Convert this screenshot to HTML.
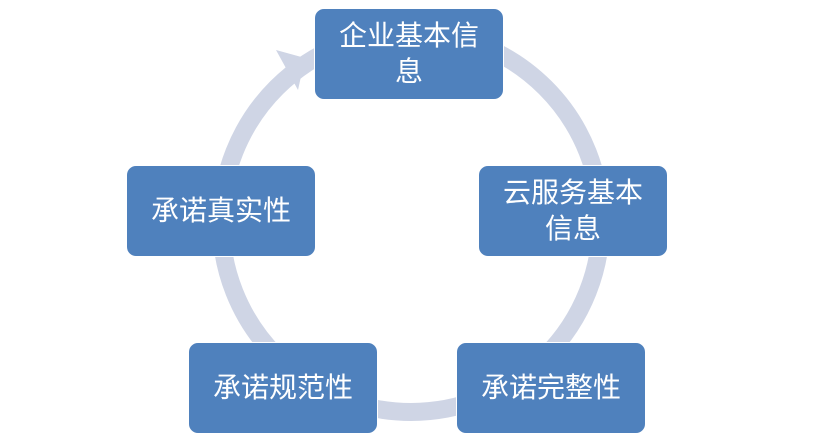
<!DOCTYPE html>
<html><head><meta charset="utf-8"><style>
html,body{margin:0;padding:0;background:#fff;width:823px;height:440px;overflow:hidden}
.b{position:absolute;width:190px;height:92px;background:#4f81bd;border:1px solid #fff;border-radius:10px;color:#fff;font-family:"Liberation Sans","Noto Sans CJK SC",sans-serif;font-size:28px;line-height:36px;display:flex;align-items:center;justify-content:center;text-align:center;box-sizing:border-box;padding:0 6px}
</style></head><body>
<svg width="823" height="440" style="position:absolute;left:0;top:0">
<circle cx="411" cy="222" r="190" fill="none" stroke="#cfd5e5" stroke-width="18"/>
<polygon points="305,58 298,90 276,50" fill="#cfd5e5"/>
</svg>
<div class="b" style="left:314px;top:8px">企业基本信<br>息</div>
<div class="b" style="left:478px;top:165px">云服务基本<br>信息</div>
<div class="b" style="left:456px;top:342px">承诺完整性</div>
<div class="b" style="left:188px;top:342px">承诺规范性</div>
<div class="b" style="left:126px;top:165px">承诺真实性</div>
</body></html>
